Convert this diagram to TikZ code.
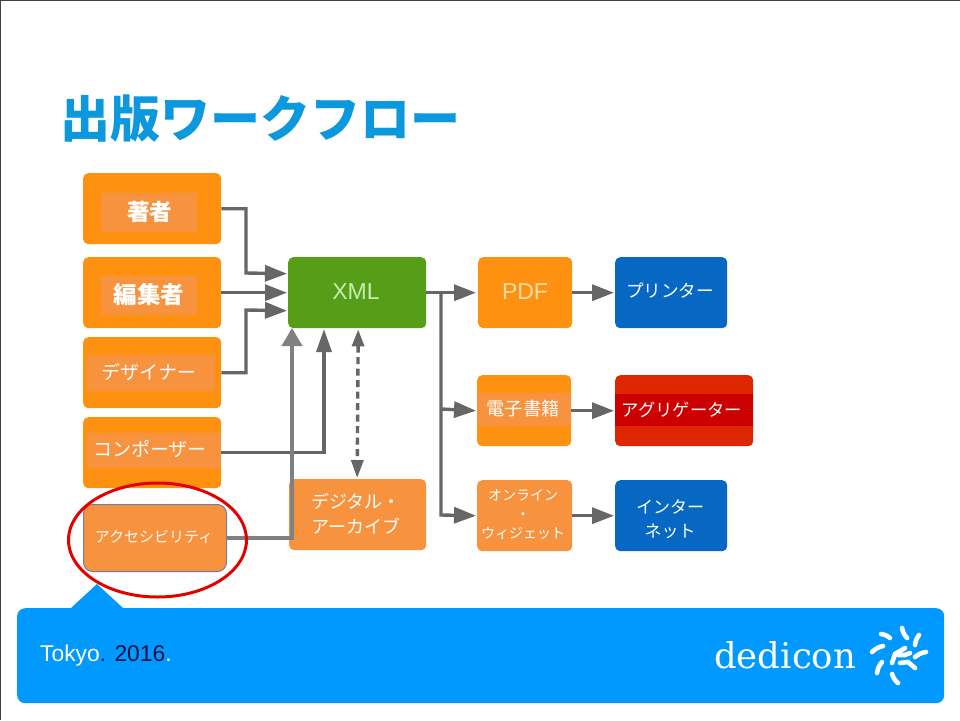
\documentclass[tikz,border=0pt]{standalone}
\usepackage{fontspec}
\setmainfont{Liberation Sans}
\newfontfamily\jp{Noto Sans CJK JP}
\newfontfamily\logofont{DejaVu Serif}
\usetikzlibrary{arrows.meta,shapes.geometric,calc}
\definecolor{orA}{HTML}{FF9110}
\definecolor{orB}{HTML}{F7923F}
\definecolor{grn}{HTML}{569E18}
\definecolor{blu}{HTML}{0768C4}
\definecolor{redA}{HTML}{DE2600}
\definecolor{redB}{HTML}{CC0000}
\definecolor{ln}{HTML}{666666}
\definecolor{lnl}{HTML}{808080}
\definecolor{band}{HTML}{0099FF}
\definecolor{ttl}{HTML}{0C98DC}
\definecolor{navy}{HTML}{001040}
\definecolor{pdftxt}{HTML}{FFDDA8}
\definecolor{xmltxt}{HTML}{C8EDB0}
\definecolor{accedge}{HTML}{6F7F9F}
\tikzset{
 x=1pt,y=-1pt,
 bx/.style={rounded corners=5pt,anchor=north west,inner sep=0pt,text=white,align=center},
 inner/.style={anchor=center,inner sep=0pt,text=white,align=center,font=\jp\fontsize{19}{22}\selectfont},
 conn/.style={draw=ln,line width=3.4pt},
 tip/.style={-{Triangle[length=22pt,width=16pt]}},
 tipv/.style={-{Triangle[length=23pt,width=15pt]}},
 logostroke/.style={white,line width=4.6pt,line cap=round},
}
\newcommand{\mybox}[6]{%
 \node[bx,fill=#6,minimum width=#4pt,minimum height=#5pt] (#1) at (#2,#3) {};
}
\begin{document}
\begin{tikzpicture}
\useasboundingbox (0,0) rectangle (960,720);
\fill[white] (0,0) rectangle (960,720);
\draw[black!75,line width=1pt] (0.5,720) -- (0.5,0.5) -- (960,0.5);
\node[anchor=west,inner sep=0pt,text=ttl,font=\jp\bfseries\fontsize{50}{52}\selectfont] (title) at (60,119) {出版ワークフロー};
% band
\fill[band] (71,608) -- (97,584) -- (123,608) -- cycle;
\node[anchor=north west,fill=band,rounded corners=8pt,minimum width=927pt,minimum height=95pt,inner sep=0pt] (band) at (17,608) {};
\node[anchor=west,inner sep=0pt,text=white,font=\fontsize{22.8}{26}\selectfont] (tokyo) at (40,656) {Tokyo\textcolor{navy}{. 2016}.};
\node[anchor=west,inner sep=0pt,text=white,font=\logofont\fontsize{35.5}{38}\selectfont] (dedicon) at (714,655) {dedicon};
% logo
\draw[logostroke] (881,634) to[bend left=15] (890,638);
\draw[logostroke] (902,628) to[bend right=15] (907,638);
\draw[logostroke] (919,635) to[bend right=15] (915,645);
\draw[logostroke] (926,652) to[bend right=15] (915,657);
\draw[logostroke] (883,646) to[bend right=15] (872,652);
\draw[logostroke] (882,662) to[bend right=15] (877,673);
\draw[logostroke] (892,674) to[bend right=15] (898,683);
\draw[logostroke] (892,663) -- (895,654) -- (905,648);
\draw[logostroke] (898,655) -- (905,655) -- (910,653);
\draw[logostroke] (900,663) -- (908,662) -- (915,668);
% left boxes
\mybox{chosha}{83}{173}{138}{71}{orA}
\fill[orB] (101,193) rectangle (197,232);
\node[inner,font=\jp\bfseries\fontsize{22.5}{26}\selectfont] (choshat) at (149.5,212) {著者};
\mybox{henshu}{83}{257}{138}{71}{orA}
\fill[orB] (101,276) rectangle (197,315);
\node[inner,font=\jp\bfseries\fontsize{23.5}{26}\selectfont] (henshut) at (149,295) {編集者};
\mybox{design}{83}{337}{138}{71}{orA}
\fill[orB] (87,355) rectangle (215,391);
\node[inner] (designt) at (149,372) {デザイナー};
\mybox{compo}{83}{417}{138}{71}{orA}
\fill[orB] (87,433) rectangle (221,468);
\node[inner] (compot) at (150,449) {コンポーザー};
% centre
\mybox{xml}{288}{257}{138}{71}{grn}
\node[inner,text=xmltxt,font=\fontsize{23}{26}\selectfont] (xmlt) at (356,292) {XML};
\mybox{arch}{289}{479}{137}{71}{orB}
\node[inner,font=\jp\fontsize{18}{25}\selectfont] (archt) at (356,514) {デジタル・\\アーカイブ};
% outputs
\mybox{pdf}{478}{257}{94}{71}{orA}
\node[inner,text=pdftxt,font=\fontsize{23}{26}\selectfont] (pdft) at (525,292) {PDF};
\mybox{ebook}{477}{375}{94}{71}{orA}
\fill[orB] (477,393) rectangle (571,426);
\node[inner] (ebookt) at (523,409) {\fontsize{18.3}{22}\selectfont 電子書籍};
\mybox{online}{477}{480}{95}{71}{orB}
\node[inner,font=\jp\fontsize{14}{19}\selectfont] (onlinet) at (523,515) {オンライン\\・\\ウィジェット};
\mybox{print}{615}{257}{112}{71}{blu}
\node[inner,font=\jp\fontsize{17.6}{22}\selectfont] (printt) at (670,291) {プリンター};
\mybox{aggr}{615}{375}{138}{71}{redA}
\fill[redB] (615,394) rectangle (753,426);
\node[inner,font=\jp\fontsize{17.3}{22}\selectfont] (aggrt) at (682,410) {アグリゲーター};
\mybox{net}{615}{480}{112}{71}{blu}
\node[inner,font=\jp\fontsize{17}{24}\selectfont] (nett) at (670,519) {インター\\ネット};
% access box
\node[bx,fill=orB,draw=accedge,line width=1pt,minimum width=143pt,minimum height=67pt,rounded corners=9pt] (acc) at (83,504) {};
\node[inner,font=\jp\fontsize{15}{18}\selectfont] (acct) at (154,537) {アクセシビリティ};
% connectors into XML
\coordinate (e1) at (246,273);
\coordinate (e3) at (246,310);
\coordinate (vC) at (324,329);
\coordinate (vA) at (292,328);
\draw[conn,tip] (chosha.east) -| (e1) -- ([yshift=19pt,xshift=-1pt]xml.west);
\draw[conn,tip] (henshu.east) -- ([xshift=-1pt]xml.west);
\draw[conn,tip] (design.east) -| (e3) -- ([yshift=-18pt,xshift=-1pt]xml.west);
\draw[conn,tipv] (compo.east) -| (vC);
\draw[draw=lnl,line width=4pt,-{Triangle[length=18pt,width=20pt]}] (acc.east) -| (vA);
\draw[conn,dash pattern=on 7pt off 4.5pt,{Triangle[length=17pt,width=12pt]}-{Triangle[length=18pt,width=12pt]}] ([xshift=1pt,yshift=-1pt]xml.south) -- ([xshift=-0.5pt,yshift=1pt]arch.north);
% connectors out of XML
\coordinate (branch) at (441,292);
\coordinate (bE) at (441,409);
\coordinate (bO) at (441,515);
\draw[conn,tip] (xml.east) -- ([xshift=-2pt]pdf.west);
\draw[conn,tip] (bE) -- ([xshift=-1pt]ebook.west);
\draw[conn,tip] (branch) -- (bO) -- ([xshift=-1pt]online.west);
\draw[conn,tip] (pdf.east) -- ([xshift=-1pt]print.west);
\draw[conn,tip] (ebook.east) -- ([xshift=-1pt]aggr.west);
\draw[conn,tip] (online.east) -- ([xshift=-1pt]net.west);
% ellipse
\node[ellipse,draw=red!90!black,line width=3pt,minimum width=178pt,minimum height=114pt,inner sep=0pt] (mark) at (157.5,540) {};
\end{tikzpicture}
\end{document}
